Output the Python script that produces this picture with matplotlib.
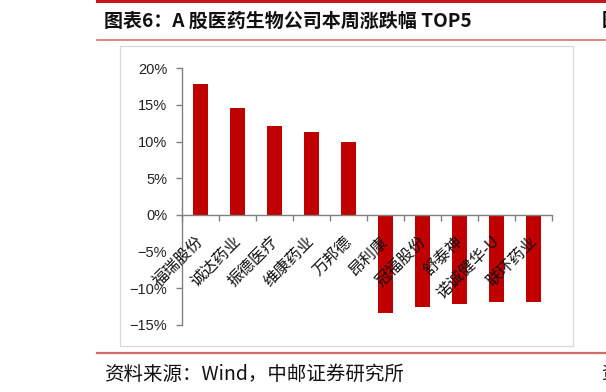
import numpy as np
import matplotlib
matplotlib.use("Agg")
import matplotlib.pyplot as plt
from matplotlib.ticker import FuncFormatter
from matplotlib.patches import Rectangle
from matplotlib.lines import Line2D

plt.rcParams['font.family'] = ['Noto Sans CJK SC', 'DejaVu Sans']

# 数据
names = ['福瑞股份', '诚达药业', '振德医疗', '维康药业', '万邦德',
         '昂利康', '冠福股份', '舒泰神', '诺诚健华-U', '联环药业']
chg = [17.8, 14.6, 12.1, 11.35, 9.9,
       -13.3, -12.5, -12.2, -11.9, -11.85]
yticks = [-15, -10, -5, 0, 5, 10, 15, 20]

W, H = 606, 392
fig = plt.figure(figsize=(W / 100, H / 100), dpi=100)

def fx(px):
    return px / W

def fy(py):
    return 1 - py / H

# 外框和红线
fig.add_artist(Line2D([fx(97), 1], [fy(1), fy(1)], color='#c8161d', lw=2.2))
fig.add_artist(Line2D([fx(97), 1], [fy(40), fy(40)], color='#e07070', lw=1.2))
fig.add_artist(Line2D([fx(97), 1], [fy(353), fy(353)], color='#d36a6a', lw=1.6))
fig.add_artist(Rectangle((fx(119.5), fy(345.5)), fx(573) - fx(119.5), fy(46) - fy(345.5),
                         fill=False, edgecolor='#d9d9d9', lw=0.9))

fig.text(fx(104), fy(21), '图表6：A 股医药生物公司本周涨跌幅 TOP5', fontsize=13.7,
         weight='bold', va='center', ha='left', color='#111111')
fig.text(fx(104), fy(374), '资料来源：Wind，中邮证券研究所', fontsize=14,
         va='center', ha='left', color='#111111')
fig.text(fx(602), fy(21), '图', fontsize=13.5, weight='bold', va='center', ha='left')
fig.text(fx(601), fy(374), '资', fontsize=13, va='center', ha='left')

# 图表区
ax = fig.add_axes([fx(181.7), fy(325), fx(551.7) - fx(181.7), fy(68.3) - fy(325)])
x = np.arange(len(names))
ax.bar(x, chg, width=0.4, color='#C00000', zorder=2)
ax.set_xlim(-0.5, len(names) - 0.5)
ax.set_ylim(-15, 20)

for s in ['top', 'right']:
    ax.spines[s].set_visible(False)
ax.spines['bottom'].set_position(('data', 0))
ax.spines['left'].set_color('#808080')
ax.spines['bottom'].set_color('#808080')
ax.spines['left'].set_linewidth(1.0)
ax.spines['bottom'].set_linewidth(1.0)

ax.set_yticks(yticks)
ax.yaxis.set_major_formatter(FuncFormatter(lambda v, p: f'{v:.0f}%'.replace('-', '\u2212')))
ax.tick_params(axis='y', direction='out', length=4.5, width=1.0, color='#808080',
               pad=6, labelsize=10.5, labelcolor='#222222')
for lab in ax.get_yticklabels():
    lab.set_family(['Liberation Sans', 'DejaVu Sans'])

ax.set_xticks(np.arange(-0.5, len(names), 1.0))
ax.set_xticklabels([])
ax.tick_params(axis='x', direction='out', length=4, width=1.0, color='#808080')

# 斜着的类目标签
for i, n in enumerate(names):
    ax.annotate(n, xy=(i, 0), xytext=(-5, -18), textcoords='offset pixels',
                rotation=45, rotation_mode='anchor', ha='right', va='top',
                fontsize=11.5, color='#111111', zorder=3)

fig.savefig('out.png', dpi=100)
